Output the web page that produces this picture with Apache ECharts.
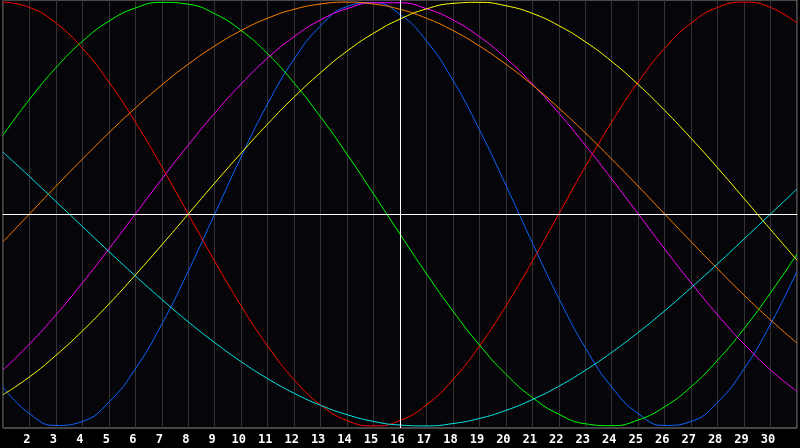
<!DOCTYPE html>
<html>
<head>
<meta charset="utf-8">
<title>Biorhythm</title>
<script src="https://cdn.jsdelivr.net/npm/echarts@6/dist/echarts.min.js"></script>
<style>
	html, body { margin: 0; padding: 0; background: #000; }
	#chartmain { width: 800px; height: 448px; }
</style>
</head>
<body>
<div id="chartmain"></div>
<script>
// days of the month shown (1..31), labels printed for 2..30
var days = [];
for (var i = 1; i <= 31; i++) days.push(i);
var tickLabels = ['2','3','4','5','6','7','8','9','10','11','12','13','14','15','16','17','18','19','20','21','22','23','24','25','26','27','28','29','30'];
var today = 16;

// cycle values in percent, one per day
var blue23 = [-81.7,-94.2,-99.8,-97.9,-88.8,-73.1,-52.0,-27.0,0,27.0,52.0,73.1,88.8,97.9,99.8,94.2,81.7,63.1,39.8,13.6,-13.6,-39.8,-63.1,-81.7,-94.2,-99.8,-97.9,-88.8,-73.1,-52.0,-27.0];
var red28 = [100,97.5,90.1,78.2,62.3,43.4,22.3,0,-22.3,-43.4,-62.3,-78.2,-90.1,-97.5,-100,-97.5,-90.1,-78.2,-62.3,-43.4,-22.3,0,22.3,43.4,62.3,78.2,90.1,97.5,100,97.5,90.1];
var green33 = [37.2,54.1,69.0,81.5,91.0,97.2,99.9,99.0,94.5,86.6,75.6,61.8,45.8,28.2,9.5,-9.5,-28.2,-45.8,-61.8,-75.6,-86.6,-94.5,-99.0,-99.9,-97.2,-91.0,-81.5,-69.0,-54.1,-37.2,-18.9];
var magenta38 = [-73.6,-61.4,-47.6,-32.5,-16.5,0,16.5,32.5,47.6,61.4,73.6,83.7,91.6,96.9,99.7,99.7,96.9,91.6,83.7,73.6,61.4,47.6,32.5,16.5,0,-16.5,-32.5,-47.6,-61.4,-73.6,-83.7];
var yellow43 = [-85.3,-76.9,-66.7,-55.2,-42.5,-28.8,-14.6,0,14.6,28.8,42.5,55.2,66.7,76.9,85.3,92.0,96.8,99.4,99.9,98.3,94.7,88.9,81.3,72.0,61.1,48.9,35.7,21.8,7.3,-7.3,-21.8];
var orange48 = [-13.1,0,13.1,25.9,38.3,50,60.9,70.7,79.3,86.6,92.4,96.6,99.1,100,99.1,96.6,92.4,86.6,79.3,70.7,60.9,50,38.3,25.9,13.1,0,-13.1,-25.9,-38.3,-50,-60.9];
var cyan53 = [29.2,17.7,5.9,-5.9,-17.7,-29.2,-40.3,-50.9,-60.7,-69.7,-77.7,-84.6,-90.3,-94.7,-97.9,-99.6,-100.0,-98.9,-96.5,-92.7,-87.6,-81.3,-73.8,-65.3,-55.9,-45.7,-34.8,-23.5,-11.8,0,11.8];

function pairs(vals) {
	var out = [];
	for (var i = 0; i < days.length; i++) {
		out.push([days[i], vals[i]]);
	}
	return out;
}

function curve(name, vals, color) {
	return {
		name: name,
		type: 'line',
		data: pairs(vals),
		smooth: 0.5,
		symbol: 'none',
		silent: true,
		lineStyle: { color: color, width: 1 }
	};
}

var series = [
	curve('23', blue23, '#0a64ff'),
	curve('28', red28, '#ff0000'),
	curve('33', green33, '#00ff00'),
	curve('38', magenta38, '#ff00ff'),
	curve('43', yellow43, '#ffff00'),
	curve('48', orange48, '#ff8000'),
	curve('53', cyan53, '#00e8e8')
];

// zero line and today marker
series.push({
	type: 'line',
	data: [],
	silent: true,
	markLine: {
		silent: true,
		symbol: 'none',
		label: { show: false },
		lineStyle: { color: '#ffffff', width: 1, type: 'solid' },
		data: [{ yAxis: 0 }, { xAxis: today }]
	}
});

var option = {
	backgroundColor: '#000000',
	animation: false,
	grid: {
		left: 0,
		right: 1,
		top: 0,
		height: 428,
		show: true,
		backgroundColor: '#06060a',
		borderColor: '#8a8a8a',
		borderWidth: 1
	},
	xAxis: {
		type: 'value',
		min: 1,
		max: 31,
		interval: 1,
		axisLine: { show: true, lineStyle: { color: '#8a8a8a' } },
		axisTick: { show: false },
		splitLine: { show: true, lineStyle: { color: '#333333', width: 1 } },
		axisLabel: {
			color: '#ffffff',
			fontFamily: 'DejaVu Sans Mono',
			fontWeight: 'bold',
			fontSize: 12,
			margin: 6,
			padding: [0, 5, 0, 0],
			formatter: function(v) {
				return tickLabels.indexOf(String(v)) >= 0 ? String(v) : '';
			}
		}
	},
	yAxis: {
		type: 'value',
		min: -101,
		max: 101,
		axisLine: { show: false },
		axisTick: { show: false },
		axisLabel: { show: false },
		splitLine: { show: false }
	},
	series: series
};

var myChart = echarts.init(document.getElementById('chartmain'));
myChart.setOption(option);
</script>
</body>
</html>
